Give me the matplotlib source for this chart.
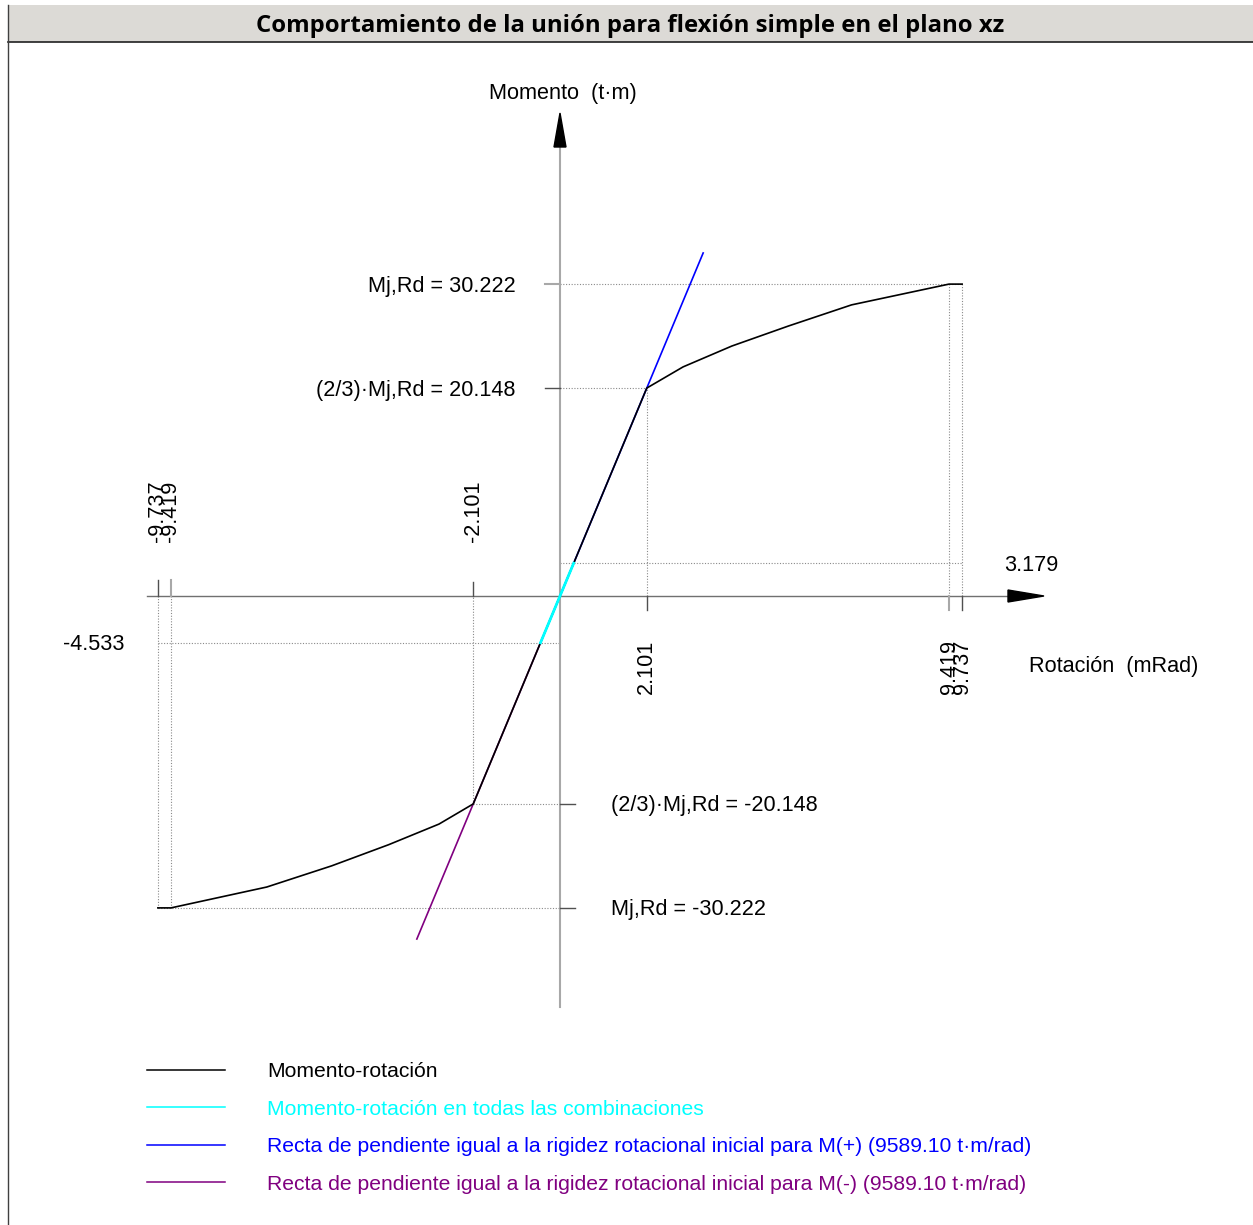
import matplotlib
matplotlib.use("Agg")
import matplotlib.pyplot as plt
from matplotlib.patches import Rectangle
from matplotlib.lines import Line2D

# ---- data: moment-rotation curve (rotation in mrad, moment in t·m) ----
rotation = [-9.737, -9.419, -7.10, -5.53, -4.15, -2.93, -2.101, 0.0,
            2.101, 2.98, 4.16, 5.53, 7.06, 9.419, 9.737]
moment = [-30.222, -30.222, -28.20, -26.15, -24.10, -22.10, -20.148, 0.0,
          20.148, 22.20, 24.22, 26.16, 28.21, 30.222, 30.222]

mj_rd_pos = 30.222
mj_rd_neg = -30.222
m23_pos = 20.148
m23_neg = -20.148
rot23_pos = 2.101
rot23_neg = -2.101
rot_rd_pos = [9.419, 9.737]
rot_rd_neg = [-9.737, -9.419]
m_comb_max = 3.179
m_comb_min = -4.533
s_ini = 9589.10            # t·m/rad
tangent_moment = 33.24     # moment where the initial-stiffness lines end

k_ini = s_ini / 1000.0     # t·m per mrad

title = "Comportamiento de la unión para flexión simple en el plano xz"
legend_labels = [
    "Momento-rotación",
    "Momento-rotación en todas las combinaciones",
    "Recta de pendiente igual a la rigidez rotacional inicial para M(+) (9589.10 t·m/rad)",
    "Recta de pendiente igual a la rigidez rotacional inicial para M(-) (9589.10 t·m/rad)",
]

# ---- layout ----
W, H = 1253, 1225
PX_X = 41.3     # pixels per mrad
PX_Y = 10.32    # pixels per t·m
OX, OY = 560, 596

plt.rcParams["font.family"] = ["Liberation Sans", "DejaVu Sans"]
FS = 15.6
FS_LEG = 15.2

fig = plt.figure(figsize=(W / 100, H / 100), dpi=100)
fig.patch.set_facecolor("white")
ax = fig.add_axes([0, 0, 1, 1])
ax.set_xlim(-OX / PX_X, (W - OX) / PX_X)
ax.set_ylim(-(H - OY) / PX_Y, OY / PX_Y)
ax.axis("off")


def dx(p):
    return p / PX_X


def dy(p):
    return p / PX_Y


# title band and frame
fig.patches.append(Rectangle((8 / W, 1 - 42 / H), 1 - 8 / W, 37 / H,
                             transform=fig.transFigure, facecolor="#dcdad6",
                             edgecolor="none", zorder=0))
fig.lines.append(Line2D([8 / W, 1], [1 - 42 / H, 1 - 42 / H], transform=fig.transFigure,
                        color="#202020", lw=1.2))
fig.lines.append(Line2D([8 / W, 8 / W], [0, 1 - 5 / H], transform=fig.transFigure,
                        color="#404040", lw=1.0))
ttl = fig.text(630.5 / W, 1 - 26 / H, title, ha="center", va="center",
               fontfamily="Open Sans", fontweight="bold", fontsize=15.5)
fig.canvas.draw()
bb = ttl.get_window_extent()
ttl.set_fontsize(15.5 * 745 / bb.width)

# axes with arrows
x_axis = (-dx(413), dx(450))
y_axis = (-dy(411), dy(451))
ax.plot([x_axis[0], x_axis[1]], [0, 0], color="#707070", lw=1.0, zorder=2)
ax.plot([0, 0], [y_axis[0], y_axis[1]], color="#a8a8a8", lw=1.5, zorder=2)
x_tip = x_axis[1] + dx(34)
y_tip = y_axis[1] + dy(32)
ax.fill([x_axis[1] - dx(2), x_tip, x_axis[1] - dx(2)], [dy(6), 0, -dy(6)], color="black", zorder=5)
ax.fill([-dx(6), 0, dx(6)], [y_axis[1] - dy(2), y_tip, y_axis[1] - dy(2)], color="black", zorder=5)

guide = dict(color="#8a8a8a", lw=0.8, ls=(0, (1, 1.5)), zorder=1)
tick_dark = dict(color="#505050", lw=1.0, zorder=2)
tick_light = dict(color="#a8a8a8", lw=1.5, zorder=2)

# horizontal guides
ax.plot([0, rot_rd_pos[1]], [mj_rd_pos, mj_rd_pos], **guide)
ax.plot([0, rot23_pos], [m23_pos, m23_pos], **guide)
ax.plot([rot23_neg, 0], [m23_neg, m23_neg], **guide)
ax.plot([rot_rd_neg[0], 0], [mj_rd_neg, mj_rd_neg], **guide)
ax.plot([0, rot_rd_pos[1]], [m_comb_max, m_comb_max], **guide)
ax.plot([rot_rd_neg[0], 0], [m_comb_min, m_comb_min], **guide)
# y-axis ticks
ax.plot([-dx(15), 0], [mj_rd_pos, mj_rd_pos], **tick_light)
ax.plot([-dx(15), 0], [m23_pos, m23_pos], **tick_dark)
ax.plot([0, dx(15)], [m23_neg, m23_neg], **tick_dark)
ax.plot([0, dx(15)], [mj_rd_neg, mj_rd_neg], **tick_dark)

# vertical guides
ax.plot([rot23_pos, rot23_pos], [0, m23_pos], **guide)
ax.plot([rot23_neg, rot23_neg], [m23_neg, 0], **guide)
for r in rot_rd_pos:
    ax.plot([r, r], [0, mj_rd_pos], **guide)
for r in rot_rd_neg:
    ax.plot([r, r], [mj_rd_neg, 0], **guide)
# x-axis ticks
ax.plot([rot23_pos, rot23_pos], [-dy(14), 0], **tick_dark)
ax.plot([rot_rd_pos[0], rot_rd_pos[0]], [-dy(14), 0], **tick_light)
ax.plot([rot_rd_pos[1], rot_rd_pos[1]], [-dy(14), 0], **tick_dark)
ax.plot([rot23_neg, rot23_neg], [0, dy(14)], **tick_dark)
ax.plot([rot_rd_neg[0], rot_rd_neg[0]], [0, dy(16)], **tick_dark)
ax.plot([rot_rd_neg[1], rot_rd_neg[1]], [0, dy(16)], **tick_light)

# initial stiffness lines
l_pos, = ax.plot([0, tangent_moment / k_ini], [0, tangent_moment], color="#0000ff", lw=1.2,
                 zorder=3, label=legend_labels[2])
l_neg, = ax.plot([0, -tangent_moment / k_ini], [0, -tangent_moment], color="#800080", lw=1.2,
                 zorder=3, label=legend_labels[3])
# moment-rotation curve
l_curve, = ax.plot(rotation, moment, color="black", lw=1.2, zorder=4, label=legend_labels[0])
# range reached in all combinations
l_comb, = ax.plot([m_comb_min / k_ini, m_comb_max / k_ini], [m_comb_min, m_comb_max],
                  color="#00ffff", lw=2.0, zorder=4.5, label=legend_labels[1])


# value labels
def label(txt, xy, off, ha="center", va="center", rot=0):
    ax.annotate(txt, xy=xy, xytext=off, textcoords="offset pixels", ha=ha, va=va,
                rotation=rot, fontsize=FS, color="black", zorder=6)


label(f"Mj,Rd = {mj_rd_pos:.3f}", (0, mj_rd_pos), (-44, -2), ha="right")
label(f"(2/3)·Mj,Rd = {m23_pos:.3f}", (0, m23_pos), (-45, -2), ha="right")
label(f"(2/3)·Mj,Rd = {m23_neg:.3f}", (0, m23_neg), (51, -2), ha="left")
label(f"Mj,Rd = {mj_rd_neg:.3f}", (0, mj_rd_neg), (51, -2), ha="left")
label(f"{m_comb_max:.3f}", (rot_rd_pos[1], m_comb_max), (42, -2), ha="left")
label(f"{m_comb_min:.3f}", (rot_rd_neg[0], m_comb_min), (-33, -2), ha="right")
for r in [rot23_pos] + rot_rd_pos:
    label(f"{r:.3f}", (r, 0), (0, -44), va="top", rot=90)
for r in [rot23_neg] + rot_rd_neg:
    label(f"{r:.3f}", (r, 0), (0, 54), va="bottom", rot=90)

label("Momento  (t·m)", (0, y_tip), (3, 19))
label("Rotación  (mRad)", (x_tip, 0), (-15, -71), ha="left")

leg = ax.legend(handles=[l_curve, l_comb, l_pos, l_neg], labels=legend_labels,
                loc="upper left", bbox_to_anchor=(147 / W, 1 - 1062 / H),
                bbox_transform=fig.transFigure, frameon=False, fontsize=FS_LEG,
                handlelength=3.7, handletextpad=2.0, labelspacing=0.88,
                borderpad=0, borderaxespad=0, labelcolor="linecolor")
for h in leg.legend_handles:
    h.set_linewidth(1.1)

fig.savefig("out.png", dpi=100, facecolor="white")
